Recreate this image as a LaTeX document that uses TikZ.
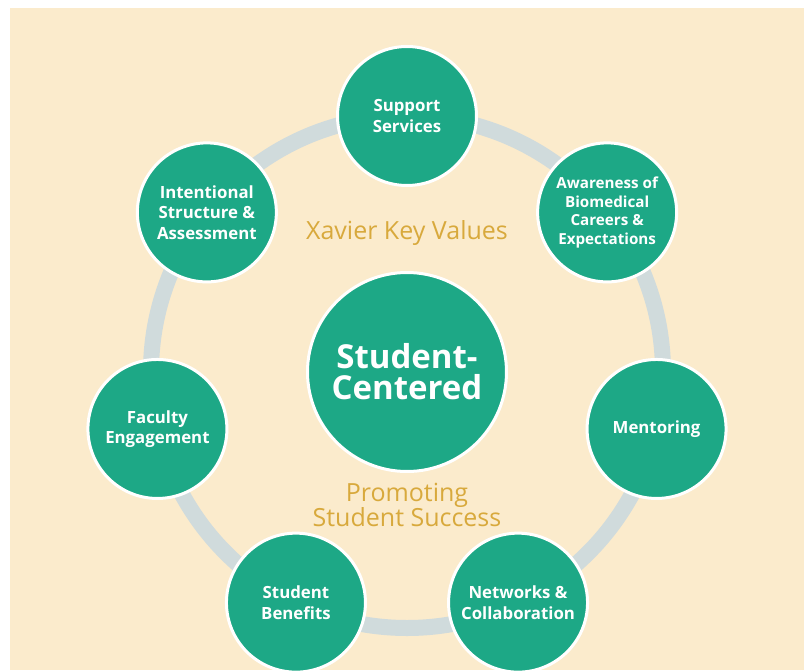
\documentclass[tikz,border=0pt]{standalone}
\usepackage{fontspec}
\setmainfont{Open Sans}
\definecolor{cream}{HTML}{FBEBCC}
\definecolor{xgreen}{HTML}{1DA886}
\definecolor{ringgray}{HTML}{D0DBDC}
\definecolor{gold}{HTML}{D8A93C}

\begin{document}
\begin{tikzpicture}[x=1pt, y=1pt,
  val/.style={circle, fill=xgreen, draw=white, line width=3pt, minimum size=139pt, inner sep=0pt, text=white, align=center, font=\bfseries\fontsize{16.8}{20.5}\selectfont},
  hub/.style={val, minimum size=199pt, font=\bfseries\fontsize{33}{31}\selectfont},
  note/.style={text=gold, align=center, font=\fontsize{25}{23.5}\selectfont},
  ring/.style={draw=ringgray, line width=16pt}]
  \useasboundingbox (-407,-298) rectangle (404,372);
  \fill[cream] (-397,-298) rectangle (397,364);

  \draw[ring] (0,0) circle (256);

  \node[hub] (hub) at (0,0) {Student-\\Centered};

  \node[val] (v1) at (90:256) {Support\\Services};
  \node[val, font=\bfseries\fontsize{15.2}{18.5}\selectfont] (v2) at (38.57:256) {Awareness of\\Biomedical\\Careers \&\\Expectations};
  \node[val] (v3) at (-12.86:256) {Mentoring};
  \node[val] (v4) at (-64.29:256) {Networks \&\\Collaboration};
  \node[val] (v5) at (-115.71:256) {Student\\Benefits};
  \node[val] (v6) at (-167.14:256) {Faculty\\Engagement};
  \node[val] (v7) at (141.43:256) {Intentional\\Structure \&\\Assessment};

  \node[note] (kv) at (0,139) {Xavier Key Values};
  \node[note] (ps) at (0,-133) {Promoting\\[-1pt]Student Success};
\end{tikzpicture}
\end{document}
